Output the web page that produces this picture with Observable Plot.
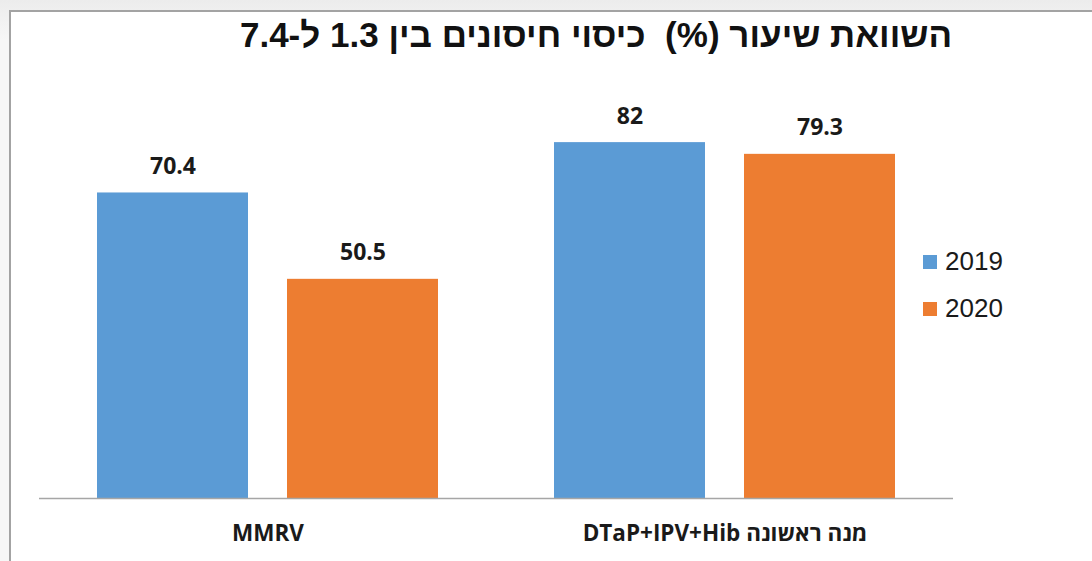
<!DOCTYPE html>
<html>
<head>
<meta charset="utf-8">
<script src="https://cdn.jsdelivr.net/npm/d3@7"></script>
<script src="https://cdn.jsdelivr.net/npm/@observablehq/plot@0.6"></script>
<style>
  html, body { margin: 0; padding: 0; }
  body { width: 1092px; height: 561px; overflow: hidden; position: relative;
         background: linear-gradient(#ececec, #f7f7f7 40px, #f7f7f7); }
  #frame { position: absolute; left: 9px; top: 10px; width: 1100px; height: 560px;
           background: #fff; border-left: 2px solid #a3a3a3; border-top: 2px solid #a3a3a3; }
  #chart { position: absolute; left: 0; top: 0; }
  #title { position: absolute; left: 196px; width: 800px; top: 15px; text-align: center;
           direction: rtl; font-family: "Liberation Sans", Arial, sans-serif; font-weight: bold;
           font-size: 35px; color: #111; white-space: pre; }
  #legend { position: absolute; left: 923px; top: 238px; font-family: "Liberation Sans", Arial, sans-serif;
            font-size: 26px; color: #1a1a1a; }
  #legend .row { display: flex; align-items: center; height: 47px; }
  #legend .sw { width: 14px; height: 14px; margin-right: 8px; }
</style>
</head>
<body>
<div id="frame"></div>
<div id="chart"></div>
<div id="title"></div>
<div id="legend"></div>
<script>
const titleText = "השוואת שיעור (%)  כיסוי חיסונים בין 1.3 ל-7.4";
const categories = ["MMRV", "מנה ראשונה DTaP+IPV+Hib"];
const years = ["2019", "2020"];
const values2019 = [70.4, 82];
const values2020 = [50.5, 79.3];
const colors = ["#5b9bd5", "#ed7d31"];

const data = categories.flatMap((c, i) => [
  {cat: c, year: years[0], value: values2019[i]},
  {cat: c, year: years[1], value: values2020[i]}
]);

const chart = Plot.plot({
  width: 1092, height: 561,
  marginLeft: 39, marginRight: 139, marginTop: 64, marginBottom: 63,
  style: {background: "transparent"},
  fx: {domain: categories, padding: 0, label: null},
  x: {domain: years, paddingInner: 0.204, paddingOuter: 0.2985, axis: null},
  y: {domain: [0, 100], axis: null},
  color: {domain: years, range: colors},
  marks: [
    Plot.barY(data, {fx: "cat", x: "year", y: "value", fill: "year"}),
    Plot.ruleY([0], {stroke: "#a6a6a6", strokeWidth: 1.5}),
    Plot.text(data, {fx: "cat", x: "year", y: "value", text: d => String(d.value),
      lineAnchor: "bottom", dy: -19, fontSize: 23, fontWeight: "bold",
      fontFamily: "Open Sans", fill: "#1a1a1a"}),
    Plot.axisFx({anchor: "bottom", tickSize: 0, tickPadding: 27, fontSize: 22.5,
      fontWeight: "bold", fontFamily: "Open Sans", fill: "#1a1a1a", label: null})
  ]
});
chart.querySelectorAll("text").forEach(t => {
  if (/[\u0590-\u05FF]/.test(t.textContent)) {
    t.setAttribute("direction", "rtl");
    t.style.direction = "rtl";
  }
});
document.getElementById("chart").appendChild(chart);
document.getElementById("title").textContent = titleText;

const legend = d3.select("#legend");
years.forEach((y, i) => {
  const row = legend.append("div").attr("class", "row");
  row.append("div").attr("class", "sw").style("background", colors[i]);
  row.append("span").text(y);
});
</script>
</body>
</html>
